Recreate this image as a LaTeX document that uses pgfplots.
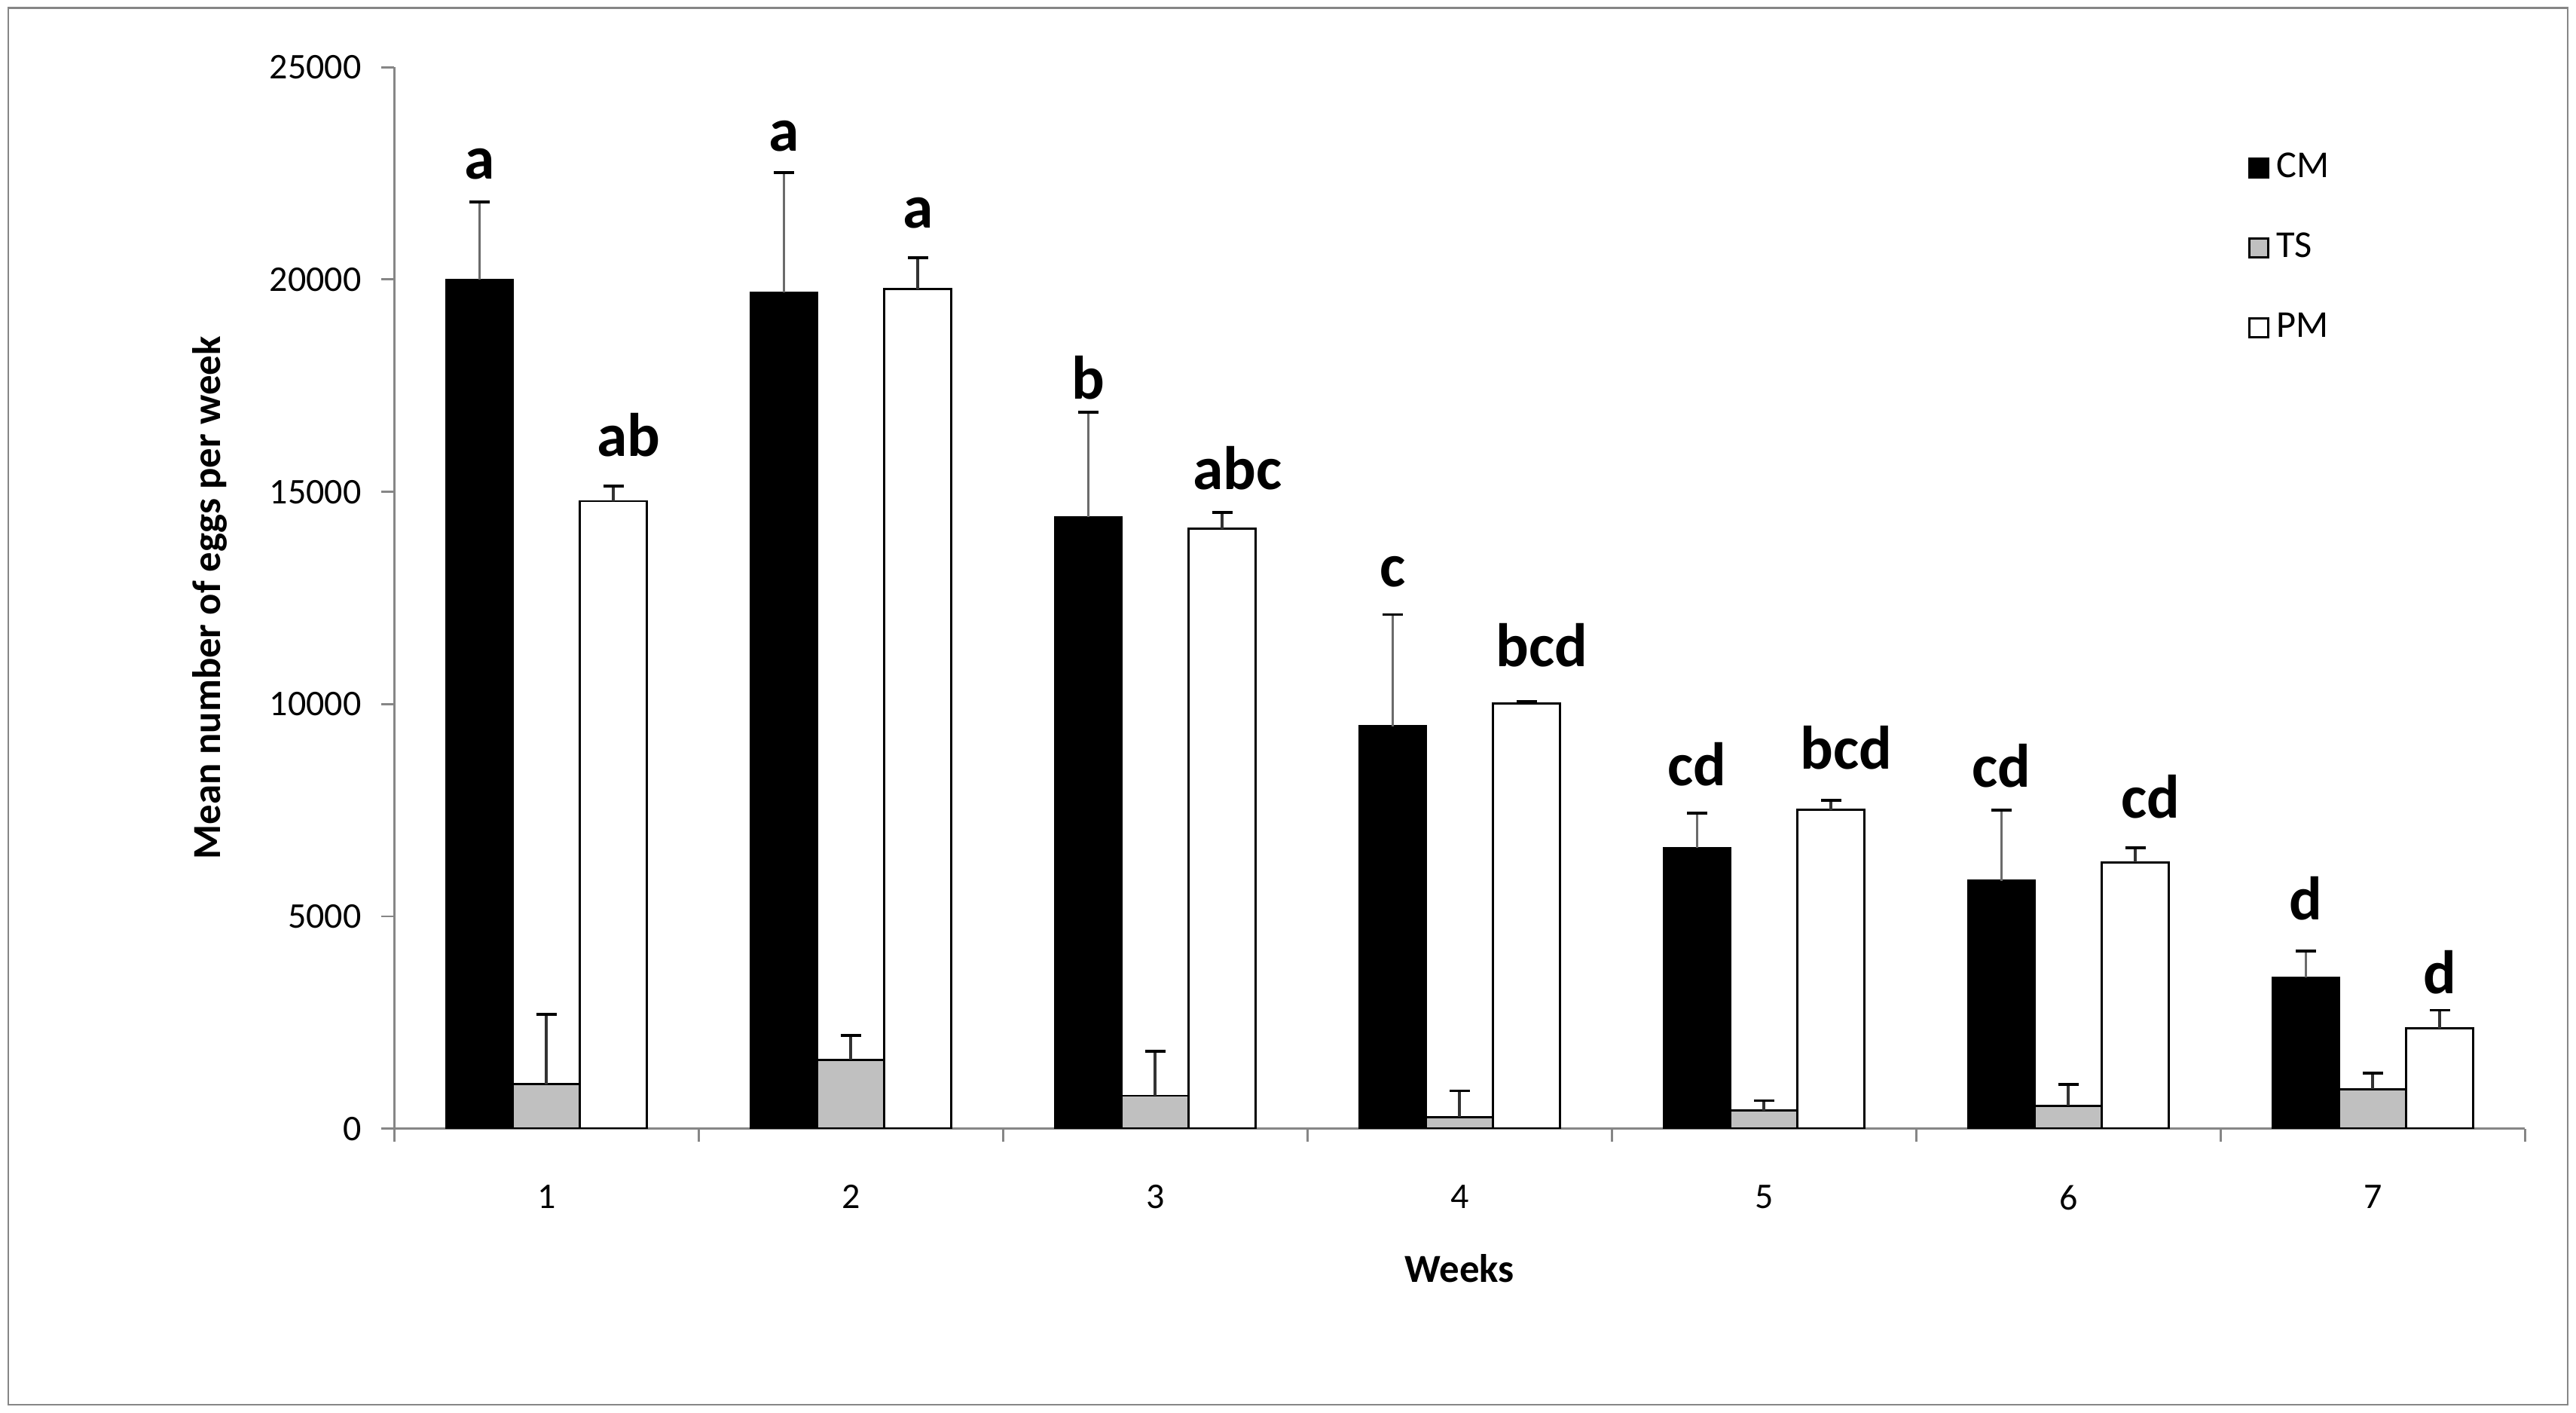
\documentclass[border=0pt]{standalone}
\usepackage{fontspec}
\setmainfont{Carlito}
\usepackage{pgfplots}
\pgfplotsset{compat=1.18}
\definecolor{tsgray}{HTML}{C0C0C0}
\definecolor{axgray}{HTML}{868686}
\begin{document}
\begin{tikzpicture}
\useasboundingbox (-109.1pt,-78.6pt) rectangle (603.6pt,312.2pt);
\draw[axgray,line width=0.5pt] (-106.8pt,-76.4pt) rectangle (601.3pt,310.0pt);
\begin{axis}[
  at={(0,0)}, anchor=south west,
  scale only axis, width=589.5pt, height=293.6pt,
  xmin=0.5, xmax=7.5, ymin=0, ymax=25000,
  ybar, bar width=0.22,
  axis x line*=bottom, axis y line*=left,
  axis line style={axgray,line width=0.6pt},
  xtick={1,...,7}, major x tick style={draw=none},
  minor xtick={0.5,1.5,...,7.5},
  ytick={0,5000,...,25000},
  tick align=outside,
  major tick length=3.6pt, minor tick length=3.6pt,
  tick style={axgray,line width=0.6pt},
  yticklabel style={font=\fontsize{10}{12}\selectfont, xshift=-2pt},
  xticklabel style={font=\fontsize{10}{12}\selectfont, yshift=-8.5pt},
  /pgf/number format/assume math mode=true,
  scaled y ticks=false,
  yticklabel={\pgfmathprintnumber[fixed,1000 sep={}]{\tick}},
  xlabel={\textbf{Weeks}}, xlabel style={font=\fontsize{11}{13}\selectfont, yshift=-5.5pt},
  ylabel={\textbf{Mean number of eggs per week}}, ylabel style={font=\fontsize{11}{13}\selectfont, yshift=5pt},
  legend style={at={(0.868,0.93)}, anchor=north west, draw=none, fill=none,
    font=\fontsize{10.5}{12}\selectfont, row sep=9.8pt, inner sep=1pt},
  legend cell align=left,
  legend image code/.code={\draw[#1,line width=0.6pt] (0pt,-2.6pt) rectangle (5.2pt,2.6pt);},
  error bars/y dir=plus, error bars/y explicit,
  error bars/error mark options={rotate=90, mark size=2.8pt, line width=0.8pt, black},
]
\addplot[fill=black, draw=black, line width=0.5pt, bar shift=-0.22,
  error bars/error bar style={axgray!80!black, line width=0.8pt}]
  coordinates {
  (1,20000) +- (0,1830)
  (2,19700) +- (0,2820)
  (3,14400) +- (0,2470)
  (4,9480)  +- (0,2630)
  (5,6620)  +- (0,810)
  (6,5840)  +- (0,1670)
  (7,3560)  +- (0,620)
  };
\addplot[fill=tsgray, draw=black, line width=0.6pt, bar shift=0,
  error bars/error bar style={black!80, line width=0.8pt}]
  coordinates {
  (1,1045) +- (0,1655)
  (2,1625) +- (0,575)
  (3,775)  +- (0,1045)
  (4,270)  +- (0,620)
  (5,425)  +- (0,235)
  (6,540)  +- (0,505)
  (7,930)  +- (0,385)
  };
\addplot[fill=white, draw=black, line width=0.6pt, bar shift=0.22,
  error bars/error bar style={black!80, line width=0.8pt}]
  coordinates {
  (1,14780) +- (0,350)
  (2,19775) +- (0,735)
  (3,14125) +- (0,385)
  (4,10020) +- (0,40)
  (5,7510)  +- (0,230)
  (6,6270)  +- (0,350)
  (7,2360)  +- (0,430)
  };
\legend{CM,TS,PM}
\tikzset{lt/.style={font=\fontsize{17}{19}\selectfont\bfseries, inner sep=0pt}}
\node[lt] at (axis cs:0.78,22720) {a};
\node[lt] at (axis cs:1.27,16330) {ab};
\node[lt] at (axis cs:1.78,23375) {a};
\node[lt] at (axis cs:2.22,21560) {a};
\node[lt] at (axis cs:2.78,17690) {b};
\node[lt] at (axis cs:3.27,15560) {abc};
\node[lt] at (axis cs:3.78,13120) {c};
\node[lt] at (axis cs:4.27,11380) {bcd};
\node[lt] at (axis cs:4.78,8590) {cd};
\node[lt] at (axis cs:5.27,8980) {bcd};
\node[lt] at (axis cs:5.78,8550) {cd};
\node[lt] at (axis cs:6.27,7820) {cd};
\node[lt] at (axis cs:6.78,5420) {d};
\node[lt] at (axis cs:7.22,3680) {d};
\end{axis}
\end{tikzpicture}
\end{document}
